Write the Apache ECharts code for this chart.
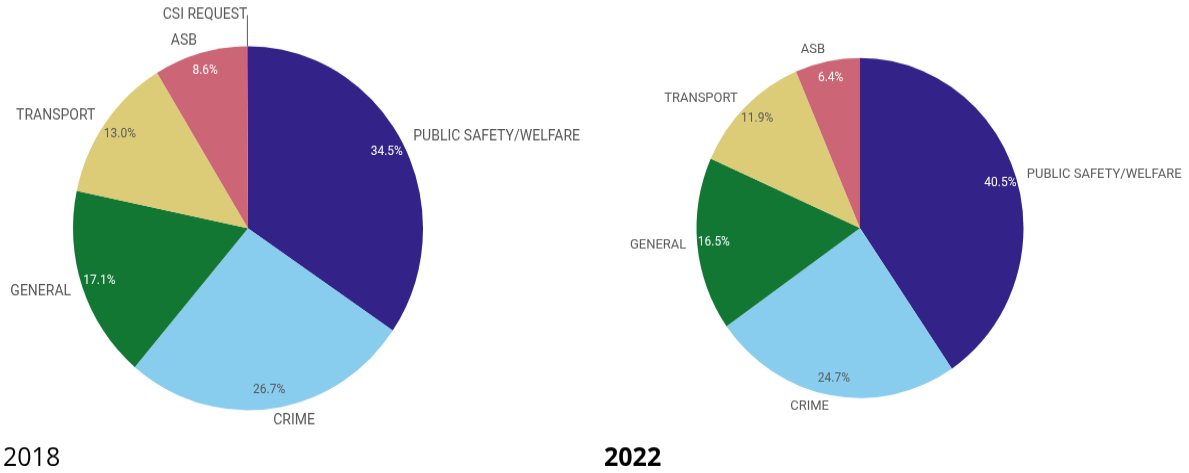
<!DOCTYPE html>
<html>
<head>
<meta charset="utf-8">
<script src="https://cdn.jsdelivr.net/npm/echarts@6/dist/echarts.min.js"></script>
<style>
  html, body { margin: 0; padding: 0; background: #fff; }
  #frame { width: 1189px; height: 473px; overflow: hidden; position: relative; }
  /* the dashboard export is slightly taller than wide, so the whole canvas is stretched a little vertically */
  #chart { width: 1189px; height: 455px; transform: scaleY(1.04); transform-origin: 0 0; }
</style>
</head>
<body>
<div id="frame"><div id="chart"></div></div>
<script>
// Call categories, in clockwise order from 12 o'clock
const categories = ['PUBLIC SAFETY/WELFARE', 'CRIME', 'GENERAL', 'TRANSPORT', 'ASB', 'CSI REQUEST'];
// Share of calls (%) per year
const values2018 = [34.5, 26.7, 17.1, 13.0, 8.6, 0.1];
const values2022 = [40.5, 24.7, 16.5, 11.9, 6.4, 0];
const yearLabels = ['2018', '2022'];

const palette = ['#332288', '#88ccee', '#117733', '#ddcc77', '#cc6677', '#aa4499'];
const pctColors = ['#ffffff', '#5a5a5a', '#ffffff', '#5a5a5a', '#ffffff', '#ffffff'];
const nameFont = 'Roboto, "Noto Sans", sans-serif';

function sliceData(values) {
  return categories.map((name, i) => ({ name, value: values[i], idx: i }))
    .filter(d => d.value > 0)
    .map(d => {
      const item = { name: d.name, value: d.value, itemStyle: { color: palette[d.idx] } };
      if (d.name === 'CSI REQUEST') {
        item.labelLine = { show: true, length: 30, length2: 0, lineStyle: { color: '#595959', width: 1 } };
        item.label = { distanceToLabelLine: 0 };
      }
      return item;
    });
}

function pctData(values) {
  return categories.map((name, i) => ({ name, value: values[i], idx: i }))
    .filter(d => d.value > 0)
    .map(d => ({
      name: d.name,
      value: d.value,
      itemStyle: { color: 'rgba(0,0,0,0)' },
      label: { show: d.name !== 'CSI REQUEST', color: pctColors[d.idx] }
    }));
}

function pieSeries(values, center, r, nameSize, lineLen) {
  return [
    {
      type: 'pie',
      center: center,
      radius: [0, r],
      startAngle: 90,
      clockwise: true,
      avoidLabelOverlap: false,
      silent: true,
      emphasis: { disabled: true },
      data: sliceData(values),
      label: {
        show: true,
        position: 'outside',
        formatter: '{b}',
        color: '#595959',
        fontFamily: nameFont,
        fontSize: nameSize,
        distanceToLabelLine: 0
      },
      labelLine: { show: false, length: lineLen, length2: 0 }
    },
    {
      type: 'pie',
      center: center,
      radius: [r * 0.76, r],
      startAngle: 90,
      clockwise: true,
      avoidLabelOverlap: false,
      silent: true,
      emphasis: { disabled: true },
      data: pctData(values),
      label: {
        show: true,
        position: 'inside',
        formatter: p => p.value.toFixed(1) + '%',
        fontFamily: nameFont,
        fontSize: 12,
        fontWeight: 'normal'
      },
      labelLine: { show: false }
    }
  ];
}

const yearStyle = { fontFamily: '"Open Sans", sans-serif', fontSize: 25, color: '#000', lineHeight: 25 };

const chart = echarts.init(document.getElementById('chart'), null, { renderer: 'canvas' });
chart.setOption({
  animation: false,
  backgroundColor: '#ffffff',
  title: [
    { text: yearLabels[0], left: 3, top: 428, padding: 0, textStyle: Object.assign({}, yearStyle, { fontWeight: 'normal' }) },
    { text: yearLabels[1], left: 604, top: 428, padding: 0, textStyle: Object.assign({}, yearStyle, { fontWeight: 'bold' }) }
  ],
  series: [
    ...pieSeries(values2018, [248, 219.5], 175, 14, 12),
    ...pieSeries(values2022, [860, 219.2], 163.5, 13, 11)
  ]
});
</script>
</body>
</html>
